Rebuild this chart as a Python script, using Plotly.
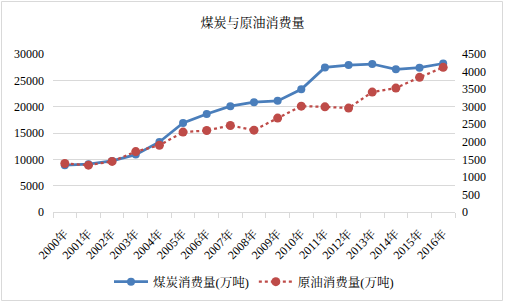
import plotly.graph_objects as go

years = ["2000年","2001年","2002年","2003年","2004年","2005年","2006年","2007年","2008年",
         "2009年","2010年","2011年","2012年","2013年","2014年","2015年","2016年"]
coal = [8880, 9070, 9700, 10900, 13300, 16900, 18600, 20100, 20850,
        21100, 23300, 27450, 27900, 28100, 27100, 27400, 28200]
oil = [1380, 1335, 1440, 1720, 1900, 2275, 2320, 2465, 2330,
       2675, 3015, 2995, 2960, 3415, 3530, 3835, 4120]

W, H = 505, 305
L, R, T, B = 53, 50, 54, 93
pw, ph = W - L - R, H - T - B

serif = "Liberation Serif, Times New Roman, Noto Serif CJK SC, Noto Sans CJK SC, serif"

fig = go.Figure()
fig.add_trace(go.Scatter(x=years, y=coal, name="煤炭消费量(万吨)", mode="lines+markers",
                         line=dict(color="#4A7EBB", width=2.75),
                         marker=dict(color="#4A7EBB", size=8), yaxis="y"))
fig.add_trace(go.Scatter(x=years, y=oil, name="原油消费量(万吨)", mode="lines+markers",
                         line=dict(color="#BE4B48", width=2.25, dash="dot"),
                         marker=dict(color="#BE4B48", size=9), yaxis="y2"))

fig.update_layout(
    width=W, height=H,
    margin=dict(l=L, r=R, t=T, b=B, autoexpand=False),
    paper_bgcolor="white", plot_bgcolor="white",
    title=dict(text="煤炭与原油消费量", x=0.5, xanchor="center", y=1 - 22 / H, yanchor="middle",
               font=dict(family=serif, size=13, color="#000000")),
    font=dict(family=serif, size=12, color="#000000"),
    showlegend=True,
    legend=dict(orientation="h", x=0.5, xanchor="center", y=-(282 - 212) / ph, yanchor="middle",
                font=dict(family=serif, size=12.5), itemwidth=34, tracegroupgap=0),
    xaxis=dict(type="category", showgrid=False, showline=True, linecolor="#D9D9D9", linewidth=1,
               ticks="outside", tickson="boundaries", ticklen=5, tickcolor="#D9D9D9",
               tickangle=-45, tickfont=dict(family=serif, size=12), ticklabelstandoff=9,
               range=[-0.5, 16.5], automargin=False),
    yaxis=dict(range=[0, 30000], dtick=5000, tickformat="d", showgrid=True, gridcolor="#D9D9D9",
               gridwidth=1, zeroline=False, showline=False, ticks="", automargin=False,
               ticklabelstandoff=8, tickfont=dict(family=serif, size=12)),
    yaxis2=dict(range=[0, 4500], dtick=500, tickformat="d", overlaying="y", side="right",
                showgrid=False, zeroline=False, showline=False, ticks="", automargin=False,
                ticklabelstandoff=6, tickfont=dict(family=serif, size=12)),
)

# chart-area border
fig.add_shape(type="rect", xref="paper", yref="paper",
              x0=(1.5 - L) / pw, x1=(W - 2.5 - L) / pw,
              y0=-(H - 4.5 - T - ph) / ph, y1=1 + (T - 1.5) / ph,
              line=dict(color="#D9D9D9", width=1), fillcolor="rgba(0,0,0,0)", layer="below")

fig.write_html("out.html", config={"displayModeBar": False},
               post_script="document.body.style.margin='0';document.body.style.overflow='hidden';")
